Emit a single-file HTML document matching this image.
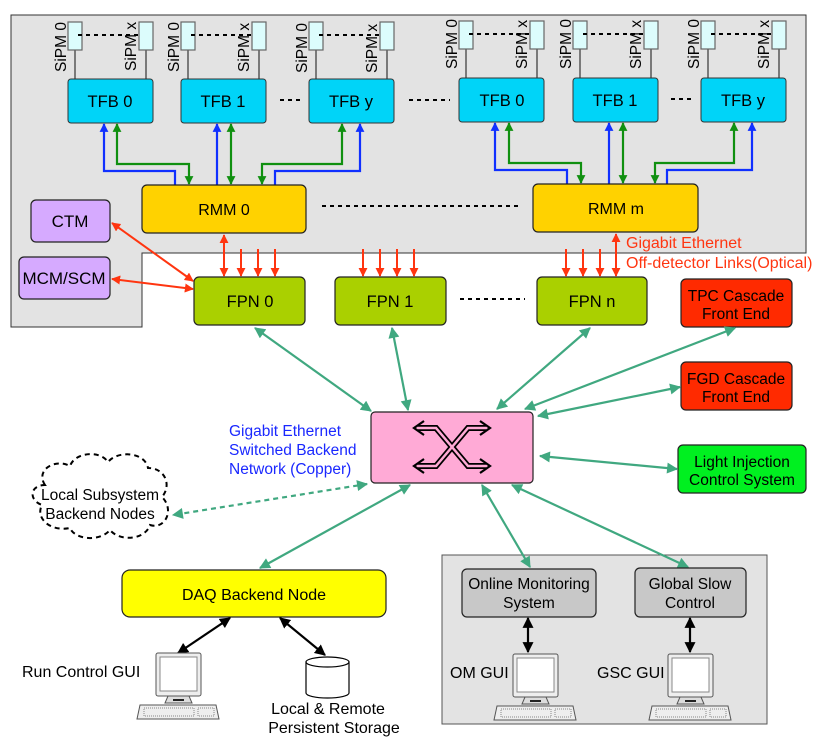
<!DOCTYPE html>
<html><head><meta charset="utf-8"><style>
html,body{margin:0;padding:0;background:#fff;}
svg{display:block;font-family:"Liberation Sans",sans-serif;}
</style></head><body>
<svg width="830" height="748" viewBox="0 0 830 748" xmlns="http://www.w3.org/2000/svg">
<defs>
<marker id="bl" viewBox="0 0 10 10" refX="9" refY="5" markerWidth="4" markerHeight="4" orient="auto-start-reverse"><path d="M0,0L10,5L0,10z" fill="#1030ff"/></marker>
<marker id="gr" viewBox="0 0 10 10" refX="9" refY="5" markerWidth="4" markerHeight="4" orient="auto-start-reverse"><path d="M0,0L10,5L0,10z" fill="#109010"/></marker>
<marker id="rd" viewBox="0 0 10 10" refX="9" refY="5" markerWidth="4.5" markerHeight="4.5" orient="auto-start-reverse"><path d="M0,0L10,5L0,10z" fill="#ff3510"/></marker>
<marker id="tl" viewBox="0 0 10 10" refX="9" refY="5" markerWidth="6" markerHeight="5" orient="auto-start-reverse"><path d="M0,0L10,5L0,10z" fill="#40a880"/></marker>
<marker id="bk" viewBox="0 0 10 10" refX="9" refY="5" markerWidth="5" markerHeight="5" orient="auto-start-reverse"><path d="M0,0L10,5L0,10z" fill="#000"/></marker>
<g id="comp">
<rect x="0" y="0" width="45" height="43" rx="2" fill="#eee" stroke="#555" stroke-width="1"/>
<rect x="4" y="4" width="37" height="34" fill="#fff" stroke="#888" stroke-width="1"/>
<path d="M12,43 L33,43 L36,50 L9,50z" fill="#ddd" stroke="#555" stroke-width="1"/>
<rect x="17" y="46" width="11" height="2" fill="#222"/>
<path d="M-16,52 L60,52 L63,66 L-19,66z" fill="#eee" stroke="#555" stroke-width="1"/>
<rect x="-12" y="55" width="50" height="8" fill="none" stroke="#888" stroke-width="1" stroke-dasharray="1,1"/>
<rect x="42" y="55" width="16" height="8" fill="none" stroke="#888" stroke-width="1" stroke-dasharray="1,1"/>
</g>
</defs>

<path d="M11,15 L806,15 L806,253 L142,253 L142,327 L11,327 Z" fill="#e3e3e3" stroke="#333" stroke-width="1"/>
<rect x="442" y="555" width="325" height="169" fill="#e3e3e3" stroke="#555" stroke-width="1"/>

<g stroke="#333" stroke-width="1.2">
<g id="sg">
<line x1="75" y1="50" x2="75" y2="79"/><line x1="146" y1="50" x2="146" y2="79"/>
<rect x="68" y="22" width="14" height="28" fill="#dcfcfc" stroke="#666"/>
<rect x="139" y="22" width="14" height="28" fill="#dcfcfc" stroke="#666"/>
<line x1="78" y1="35" x2="139" y2="35" stroke="#000" stroke-width="2" stroke-dasharray="4,4"/>
</g>
<use href="#sg" x="113"/><use href="#sg" x="241"/>
<use href="#sg" x="391" y="-1"/><use href="#sg" x="505" y="-1"/><use href="#sg" x="633" y="-1"/>
</g>
<g font-size="15.5" fill="#000">
<text transform="translate(66,72) rotate(-90)">SiPM 0</text>
<text transform="translate(136,71) rotate(-90)">SiPM x</text>
<text transform="translate(179,72) rotate(-90)">SiPM 0</text>
<text transform="translate(249,72) rotate(-90)">SiPM x</text>
<text transform="translate(307,73) rotate(-90)">SiPM 0</text>
<text transform="translate(377,73) rotate(-90)">SiPM x</text>
<text transform="translate(457,69) rotate(-90)">SiPM 0</text>
<text transform="translate(527,69) rotate(-90)">SiPM x</text>
<text transform="translate(571,69) rotate(-90)">SiPM 0</text>
<text transform="translate(641,69) rotate(-90)">SiPM x</text>
<text transform="translate(699,69) rotate(-90)">SiPM 0</text>
<text transform="translate(769,69) rotate(-90)">SiPM x</text>
</g>

<g fill="#00d4f8" stroke="#333" stroke-width="1">
<rect x="68" y="79" width="85" height="44" rx="3"/>
<rect x="181" y="79" width="85" height="44" rx="3"/>
<rect x="309" y="79" width="85" height="44" rx="3"/>
<rect x="459" y="78" width="85" height="44" rx="3"/>
<rect x="573" y="78" width="85" height="44" rx="3"/>
<rect x="701" y="78" width="85" height="44" rx="3"/>
</g>
<g font-size="16.5" text-anchor="middle">
<text x="110" y="107">TFB 0</text><text x="223" y="107">TFB 1</text><text x="351" y="107">TFB y</text>
<text x="502" y="106">TFB 0</text><text x="615" y="106">TFB 1</text><text x="743" y="106">TFB y</text>
</g>
<g stroke="#000" stroke-width="2" stroke-dasharray="4,4">
<line x1="280" y1="100" x2="304" y2="100"/>
<line x1="409" y1="100" x2="450" y2="100"/>
<line x1="671" y1="99" x2="695" y2="99"/>
<line x1="322" y1="206" x2="520" y2="206"/>
<line x1="460" y1="299" x2="525" y2="299"/>
</g>

<g fill="none" stroke-width="2.2">
<path d="M175,185 L175,171 L104,171 L104,124" stroke="#1030ff" marker-end="url(#bl)"/>
<path d="M189,184 L189,164 L117,164 L117,124" stroke="#109010" marker-start="url(#gr)" marker-end="url(#gr)"/>
<path d="M217,185 L217,124" stroke="#1030ff" marker-end="url(#bl)"/>
<path d="M231,184 L231,124" stroke="#109010" marker-start="url(#gr)" marker-end="url(#gr)"/>
<path d="M262,184 L262,164 L342,164 L342,124" stroke="#109010" marker-start="url(#gr)" marker-end="url(#gr)"/>
<path d="M275,185 L275,171 L360,171 L360,124" stroke="#1030ff" marker-end="url(#bl)"/>
<path d="M567,184 L567,170 L495,170 L495,123" stroke="#1030ff" marker-end="url(#bl)"/>
<path d="M581,183 L581,163 L509,163 L509,123" stroke="#109010" marker-start="url(#gr)" marker-end="url(#gr)"/>
<path d="M609,184 L609,123" stroke="#1030ff" marker-end="url(#bl)"/>
<path d="M623,183 L623,123" stroke="#109010" marker-start="url(#gr)" marker-end="url(#gr)"/>
<path d="M655,183 L655,163 L734,163 L734,123" stroke="#109010" marker-start="url(#gr)" marker-end="url(#gr)"/>
<path d="M667,184 L667,170 L752,170 L752,123" stroke="#1030ff" marker-end="url(#bl)"/>
</g>

<rect x="142" y="185" width="164" height="48" rx="5" fill="#ffd200" stroke="#222" stroke-width="1.2"/>
<rect x="533" y="184" width="165" height="48" rx="5" fill="#ffd200" stroke="#222" stroke-width="1.2"/>
<text x="224" y="215" font-size="16" text-anchor="middle">RMM 0</text>
<text x="616" y="214" font-size="16" text-anchor="middle">RMM m</text>

<rect x="31" y="200" width="79" height="42" rx="5" fill="#d6aaff" stroke="#222" stroke-width="1.2"/>
<rect x="19" y="257" width="91" height="42" rx="5" fill="#d6aaff" stroke="#222" stroke-width="1.2"/>
<text x="70" y="227" font-size="17" text-anchor="middle">CTM</text>
<text x="64" y="284" font-size="17" text-anchor="middle">MCM/SCM</text>

<g stroke="#ff3510" stroke-width="2" fill="none">
<line x1="224" y1="235" x2="224" y2="276" marker-start="url(#rd)" marker-end="url(#rd)"/>
<line x1="241" y1="249" x2="241" y2="276" marker-end="url(#rd)"/>
<line x1="258" y1="249" x2="258" y2="276" marker-end="url(#rd)"/>
<line x1="275" y1="249" x2="275" y2="276" marker-end="url(#rd)"/>
<line x1="363" y1="249" x2="363" y2="276" marker-end="url(#rd)"/>
<line x1="380" y1="249" x2="380" y2="276" marker-end="url(#rd)"/>
<line x1="397" y1="249" x2="397" y2="276" marker-end="url(#rd)"/>
<line x1="414" y1="249" x2="414" y2="276" marker-end="url(#rd)"/>
<line x1="566" y1="249" x2="566" y2="276" marker-end="url(#rd)"/>
<line x1="583" y1="249" x2="583" y2="276" marker-end="url(#rd)"/>
<line x1="600" y1="249" x2="600" y2="276" marker-end="url(#rd)"/>
<line x1="616" y1="234" x2="616" y2="276" marker-start="url(#rd)" marker-end="url(#rd)"/>
<line x1="112" y1="223" x2="193" y2="281" marker-start="url(#rd)" marker-end="url(#rd)"/>
<line x1="112" y1="279" x2="193" y2="289" marker-start="url(#rd)" marker-end="url(#rd)"/>
</g>
<text x="626" y="248" font-size="16" fill="#ff3510">Gigabit Ethernet</text>
<text x="626" y="268" font-size="16" fill="#ff3510">Off-detector Links(Optical)</text>

<g fill="#aad000" stroke="#222" stroke-width="1.2">
<rect x="194" y="277" width="111" height="48" rx="5"/>
<rect x="335" y="277" width="111" height="48" rx="5"/>
<rect x="537" y="277" width="110" height="48" rx="5"/>
</g>
<g font-size="16.5" text-anchor="middle">
<text x="250" y="307">FPN 0</text><text x="390" y="307">FPN 1</text><text x="592" y="307">FPN n</text>
</g>

<rect x="681" y="279" width="111" height="48" rx="5" fill="#ff2a00" stroke="#222" stroke-width="1.2"/>
<rect x="681" y="362" width="111" height="48" rx="5" fill="#ff2a00" stroke="#222" stroke-width="1.2"/>
<rect x="678" y="445" width="128" height="48" rx="5" fill="#00f020" stroke="#222" stroke-width="1.2"/>
<g font-size="15.5" text-anchor="middle">
<text x="736" y="301">TPC Cascade</text><text x="736" y="319">Front End</text>
<text x="736" y="384">FGD Cascade</text><text x="736" y="402">Front End</text>
<text x="742" y="467">Light Injection</text><text x="742" y="485">Control System</text>
</g>

<rect x="371" y="412" width="162" height="71" rx="4" fill="#ffaad6" stroke="#222" stroke-width="1.2"/>
<g fill="none" stroke-linejoin="miter">
<path d="M418,428 L436,428 L468,466 L486,466 M418,466 L436,466 L468,428 L486,428" stroke="#000" stroke-width="6"/>
<path d="M418,428 L436,428 L468,466 L486,466 M418,466 L436,466 L468,428 L486,428" stroke="#ffaad6" stroke-width="2.5"/>
<path d="M424,421 L414,428 L424,435 M480,421 L490,428 L480,435 M424,459 L414,466 L424,473 M480,459 L490,466 L480,473" stroke="#000" stroke-width="2.2"/>
</g>
<text font-size="15.5" fill="#1a28ff"><tspan x="229" y="436">Gigabit Ethernet</tspan><tspan x="229" y="455">Switched Backend</tspan><tspan x="229" y="474">Network (Copper)</tspan></text>

<g stroke="#40a880" stroke-width="2.2" fill="none">
<line x1="255" y1="328" x2="371" y2="411" marker-start="url(#tl)" marker-end="url(#tl)"/>
<line x1="392" y1="328" x2="408" y2="410" marker-start="url(#tl)" marker-end="url(#tl)"/>
<line x1="590" y1="328" x2="497" y2="409" marker-start="url(#tl)" marker-end="url(#tl)"/>
<line x1="735" y1="328" x2="525" y2="409" marker-start="url(#tl)" marker-end="url(#tl)"/>
<line x1="680" y1="387" x2="538" y2="416" marker-start="url(#tl)" marker-end="url(#tl)"/>
<line x1="540" y1="456" x2="677" y2="469" marker-start="url(#tl)" marker-end="url(#tl)"/>
<line x1="367" y1="484" x2="173" y2="515" stroke-dasharray="5,4" marker-start="url(#tl)" marker-end="url(#tl)"/>
<line x1="410" y1="485" x2="260" y2="568" marker-start="url(#tl)" marker-end="url(#tl)"/>
<line x1="482" y1="485" x2="530" y2="567" marker-start="url(#tl)" marker-end="url(#tl)"/>
<line x1="512" y1="485" x2="688" y2="567" marker-start="url(#tl)" marker-end="url(#tl)"/>
</g>

<path d="M45,485 C35,470 55,458 70,466 C75,452 100,450 108,462 C118,450 145,452 148,468 C165,468 172,485 162,497 C175,510 165,530 150,525 C145,540 120,542 110,530 C100,542 75,540 70,528 C50,532 35,518 42,505 C28,500 30,485 45,485 Z" fill="#fff" stroke="#000" stroke-width="2" stroke-dasharray="5,4"/>
<text x="100" y="500" font-size="15.5" text-anchor="middle">Local Subsystem</text>
<text x="100" y="519" font-size="15.5" text-anchor="middle">Backend Nodes</text>

<rect x="122" y="570" width="264" height="47" rx="8" fill="#ffff00" stroke="#222" stroke-width="1.2"/>
<text x="254" y="600" font-size="16" text-anchor="middle">DAQ Backend Node</text>

<rect x="462" y="569" width="134" height="48" rx="5" fill="#c8c8c8" stroke="#222" stroke-width="1.2"/>
<rect x="635" y="568" width="111" height="49" rx="5" fill="#c8c8c8" stroke="#222" stroke-width="1.2"/>
<g font-size="15.5" text-anchor="middle">
<text x="529" y="589">Online Monitoring</text><text x="529" y="608">System</text>
<text x="690" y="589">Global Slow</text><text x="690" y="608">Control</text>
</g>

<g stroke="#000" stroke-width="2.2">
<line x1="230" y1="618" x2="178" y2="653" marker-start="url(#bk)" marker-end="url(#bk)"/>
<line x1="280" y1="618" x2="325" y2="655" marker-start="url(#bk)" marker-end="url(#bk)"/>
<line x1="528" y1="618" x2="528" y2="652" marker-start="url(#bk)" marker-end="url(#bk)"/>
<line x1="690" y1="618" x2="690" y2="652" marker-start="url(#bk)" marker-end="url(#bk)"/>
</g>

<use href="#comp" x="156" y="653"/>
<use href="#comp" x="513" y="654"/>
<use href="#comp" x="668" y="654"/>
<g font-size="16">
<text x="22" y="677">Run Control GUI</text>
<text x="450" y="678">OM GUI</text>
<text x="597" y="678">GSC GUI</text>
</g>

<path d="M306,662 L306,693 A21.5,5 0 0 0 349,693 L349,662" fill="#fff" stroke="#000" stroke-width="1.2"/>
<ellipse cx="327.5" cy="662" rx="21.5" ry="5" fill="#fff" stroke="#000" stroke-width="1.2"/>
<text x="328" y="714" font-size="16" text-anchor="middle">Local &amp; Remote</text>
<text x="334" y="733" font-size="16" text-anchor="middle">Persistent Storage</text>
</svg>
</body></html>
